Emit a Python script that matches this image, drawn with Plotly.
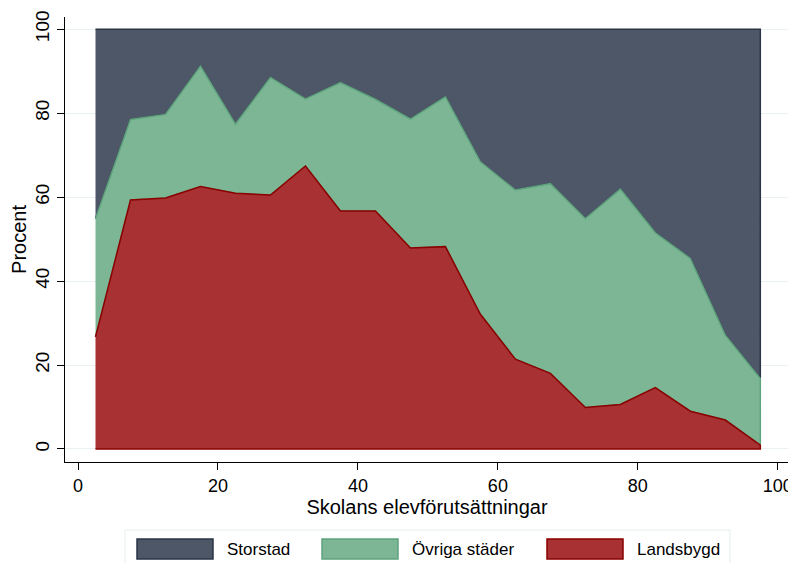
import plotly.graph_objects as go

# Andel elever per skoltyp (procent), uppdelat efter skolans elevförutsättningar
x = [2.5, 7.5, 12.5, 17.5, 22.5, 27.5, 32.5, 37.5, 42.5, 47.5,
     52.5, 57.5, 62.5, 67.5, 72.5, 77.5, 82.5, 87.5, 92.5, 97.5]
landsbygd = [26.7, 59.3, 59.8, 62.5, 60.9, 60.5, 67.4, 56.7, 56.7, 47.9,
             48.2, 32.1, 21.4, 18.0, 9.9, 10.6, 14.6, 9.0, 6.9, 0.9]
ovriga = [28.2, 19.2, 19.9, 28.7, 16.5, 28.0, 16.0, 30.6, 26.6, 30.7,
          35.7, 36.3, 40.3, 45.2, 45.0, 51.3, 36.9, 36.4, 20.2, 15.9]
storstad = [45.1, 21.5, 20.3, 8.8, 22.6, 11.5, 16.6, 12.7, 16.7, 21.4,
            16.1, 31.6, 38.3, 36.8, 45.1, 38.1, 48.5, 54.6, 72.9, 83.2]

series = [
    ("Storstad", storstad, "#4e5767", "#2b3446"),
    ("Övriga städer", ovriga, "#7cb695", "#5fa37e"),
    ("Landsbygd", landsbygd, "#a73133", "#8b0000"),
]

# cumulative bounds, bottom to top
bottoms = {}
tops = {}
base = [0.0] * len(x)
for name, vals, _, _ in reversed(series):
    bottoms[name] = base
    tops[name] = [b + v for b, v in zip(base, vals)]
    base = tops[name]

fig = go.Figure()
for name, vals, fill, line in series:
    fig.add_trace(go.Scatter(
        x=x + x[::-1],
        y=tops[name] + bottoms[name][::-1],
        fill="toself",
        fillcolor=fill,
        mode="lines",
        line=dict(color=line, width=1.5),
        name=name,
        showlegend=False,
        hoverinfo="skip",
    ))

# the page body has an 8px margin, so the figure starts at (8, 8)
OFF = 8
FW, FH = 796 - OFF, 563 - OFF
L, T, W, H = 65 - OFF, 17 - OFF, 724, 445


def px(v):
    return (v - OFF - L) / W


def py(v):
    return (T + H - (v - OFF)) / H


# legend drawn by hand to get the wide swatches
shapes = [dict(type="rect", xref="paper", yref="paper",
               x0=px(125), x1=px(730), y0=py(566), y1=py(530),
               line=dict(color="#e6eef0", width=1), fillcolor="white")]
annotations = []
swatch_left = [137, 322, 547]
for (name, _, fill, line), sx in zip(series, swatch_left):
    shapes.append(dict(type="rect", xref="paper", yref="paper",
                       x0=px(sx), x1=px(sx + 76), y0=py(559), y1=py(539),
                       line=dict(color=line, width=1.5), fillcolor=fill))
    annotations.append(dict(xref="paper", yref="paper",
                            x=px(sx + 88), y=py(549),
                            text=name, showarrow=False, xanchor="left",
                            yanchor="middle",
                            font=dict(size=17, color="black")))

fig.update_layout(
    width=FW, height=FH,
    margin=dict(l=L, r=FW - L - W, t=T, b=FH - T - H),
    paper_bgcolor="white", plot_bgcolor="white",
    font=dict(family="Liberation Sans, Arial, sans-serif", color="black"),
    shapes=shapes,
    annotations=annotations,
)
fig.update_xaxes(
    range=[-1.86, 101.6], tickvals=[0, 20, 40, 60, 80, 100],
    showgrid=False, zeroline=False, automargin=False,
    showline=True, linecolor="black", linewidth=1,
    ticks="outside", ticklen=7, tickcolor="black",
    tickfont=dict(size=18),
    title=dict(text="Skolans elevförutsättningar", font=dict(size=20), standoff=4),
)
fig.update_yaxes(
    range=[-3.1, 102.9], tickvals=[0, 20, 40, 60, 80, 100],
    showgrid=True, gridcolor="#eaf1f3", gridwidth=1, zeroline=False,
    automargin=False,
    showline=True, linecolor="black", linewidth=1,
    ticks="outside", ticklen=7, tickcolor="black",
    tickangle=-90, tickfont=dict(size=19),
    title=dict(text="Procent", font=dict(size=20), standoff=2),
)

fig.write_html("out.html")
